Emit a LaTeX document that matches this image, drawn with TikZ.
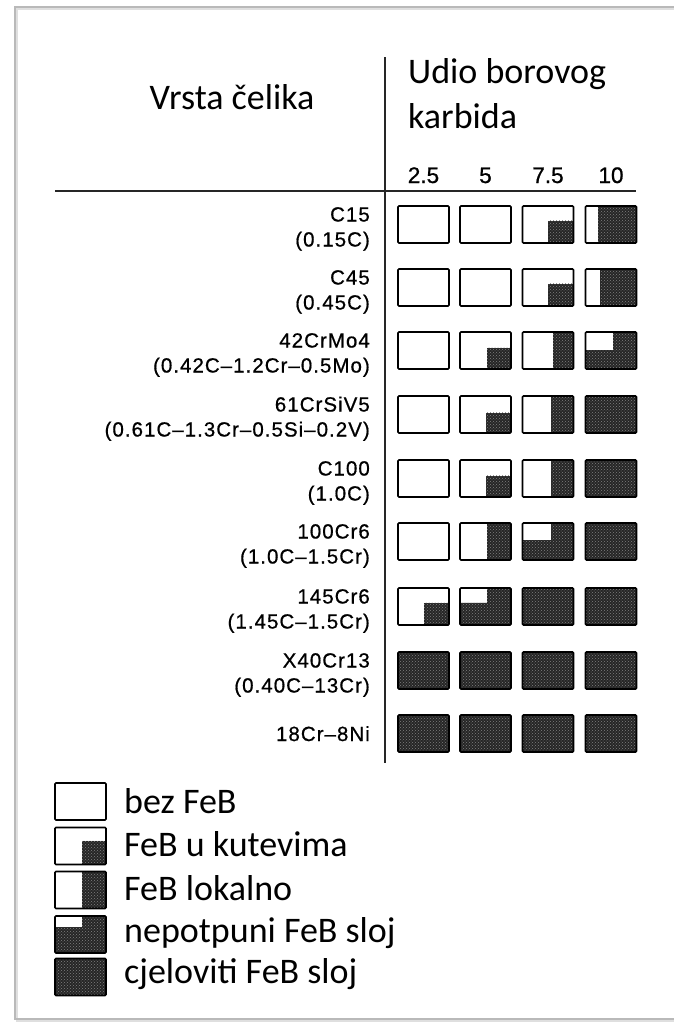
\documentclass[tikz,border=0pt]{standalone}
\usepackage{fontspec}
\setmainfont{Carlito}
\newfontfamily\labfont[LetterSpace=5, FakeBold=0.7]{Liberation Sans}
\newfontfamily\numfont[FakeBold=0.9]{Liberation Sans}
\usetikzlibrary{patterns,calc}
\tikzset{
  cellbox/.style={draw=black, line width=1.6pt, minimum width=51pt, minimum height=37pt, inner sep=0pt, outer sep=0pt, rounded corners=1pt},
  feb/.style={preaction={fill=black!85}, pattern=crosshatch dots, pattern color=black!50},
  head/.style={font=\fontsize{36}{43}\selectfont, inner sep=0pt},
  legtext/.style={font=\fontsize{36}{43}\selectfont, inner sep=0pt, anchor=base west},
  lab/.style={font=\labfont\fontsize{20.5}{24}\selectfont, inner sep=0pt, anchor=base east},
  colnum/.style={font=\numfont\fontsize{22.5}{26}\selectfont, inner sep=0pt, anchor=base},
  rule/.style={draw=black!85, line width=1.6pt}
}
% #1 name, #2 cx, #3 cy, #4 type (0 none,1 corner,2 local,3 incomplete,4 full), #5 fx, #6 fy
\newcommand{\febcell}[6]{%
  \ifcase#4\relax
  \or \fill[feb] ({#2-25.5+#5*51},{#3-18.5+#6*37}) rectangle ({#2+25.5},{#3+18.5});
  \or \fill[feb] ({#2-25.5+#5*51},{#3-18.5}) rectangle ({#2+25.5},{#3+18.5});
  \or \fill[feb] ({#2-25.5},{#3-18.5+#6*37}) -- ({#2-25.5+#5*51},{#3-18.5+#6*37}) -- ({#2-25.5+#5*51},{#3-18.5}) -- ({#2+25.5},{#3-18.5}) -- ({#2+25.5},{#3+18.5}) -- ({#2-25.5},{#3+18.5}) -- cycle;
  \or \fill[feb] ({#2-25.5},{#3-18.5}) rectangle ({#2+25.5},{#3+18.5});
  \fi
  \node[cellbox] (#1) at (#2,#3) {};
}
\begin{document}
\begin{tikzpicture}[x=1pt,y=-1pt]
\useasboundingbox (0,0) rectangle (674,1023);
% frame
\draw[gray!25, line width=2pt] (17,9) rectangle (700,1021);
\draw[gray!55, line width=1.5pt] (15,7) rectangle (700,1019);
% rules
\coordinate (vt) at (385,57);
\coordinate (vb) at (385,763);
\coordinate (hl) at (55,191);
\coordinate (hr) at (636,191);
\draw[rule] (vt) -- (vb);
\draw[rule] (hl) -- (hr);
% headers
\node[head, anchor=base] (vrsta) at (232,109) {Vrsta čelika};
\node[head, anchor=base west] (udio1) at (408,83) {Udio borovog};
\node[head, anchor=base west] (udio2) at (408,128) {karbida};
\node[colnum] (c1) at (423.5,183) {2.5};
\node[colnum] (c2) at (485.5,183) {5};
\node[colnum] (c3) at (548,183) {7.5};
\node[colnum] (c4) at (611,183) {10};
% labels
\node[lab] (l1a) at (370,221.5) {C15};
\node[lab] (l1b) at (370,246.5) {(0.15C)};
\node[lab] (l2a) at (370,284.5) {C45};
\node[lab] (l2b) at (370,309.5) {(0.45C)};
\node[lab] (l3a) at (370,347.5) {42CrMo4};
\node[lab] (l3b) at (370,372.5) {(0.42C–1.2Cr–0.5Mo)};
\node[lab] (l4a) at (370,411.5) {61CrSiV5};
\node[lab] (l4b) at (370,436.5) {(0.61C–1.3Cr–0.5Si–0.2V)};
\node[lab] (l5a) at (370,475.5) {C100};
\node[lab] (l5b) at (370,500.5) {(1.0C)};
\node[lab] (l6a) at (370,538.5) {100Cr6};
\node[lab] (l6b) at (370,563.5) {(1.0C–1.5Cr)};
\node[lab] (l7a) at (370,603.5) {145Cr6};
\node[lab] (l7b) at (370,628.5) {(1.45C–1.5Cr)};
\node[lab] (l8a) at (370,667.5) {X40Cr13};
\node[lab] (l8b) at (370,692.5) {(0.40C–13Cr)};
\node[lab] (l9a) at (370,741) {18Cr–8Ni};
% cells row 1
\febcell{r1c1}{423.5}{224.5}{0}{0}{0}
\febcell{r1c2}{485.5}{224.5}{0}{0}{0}
\febcell{r1c3}{548}{224.5}{1}{0.5}{0.4}
\febcell{r1c4}{611}{224.5}{2}{0.25}{0}
% row 2
\febcell{r2c1}{423.5}{287.5}{0}{0}{0}
\febcell{r2c2}{485.5}{287.5}{0}{0}{0}
\febcell{r2c3}{548}{287.5}{1}{0.5}{0.4}
\febcell{r2c4}{611}{287.5}{2}{0.29}{0}
% row 3
\febcell{r3c1}{423.5}{350.5}{0}{0}{0}
\febcell{r3c2}{485.5}{350.5}{1}{0.53}{0.43}
\febcell{r3c3}{548}{350.5}{2}{0.6}{0}
\febcell{r3c4}{611}{350.5}{3}{0.54}{0.49}
% row 4
\febcell{r4c1}{423.5}{414.5}{0}{0}{0}
\febcell{r4c2}{485.5}{414.5}{1}{0.51}{0.45}
\febcell{r4c3}{548}{414.5}{2}{0.56}{0}
\febcell{r4c4}{611}{414.5}{4}{0}{0}
% row 5
\febcell{r5c1}{423.5}{478.5}{0}{0}{0}
\febcell{r5c2}{485.5}{478.5}{1}{0.51}{0.42}
\febcell{r5c3}{548}{478.5}{2}{0.56}{0}
\febcell{r5c4}{611}{478.5}{4}{0}{0}
% row 6
\febcell{r6c1}{423.5}{541.5}{0}{0}{0}
\febcell{r6c2}{485.5}{541.5}{2}{0.53}{0}
\febcell{r6c3}{548}{541.5}{3}{0.56}{0.46}
\febcell{r6c4}{611}{541.5}{4}{0}{0}
% row 7
\febcell{r7c1}{423.5}{606.5}{1}{0.5}{0.4}
\febcell{r7c2}{485.5}{606.5}{3}{0.53}{0.4}
\febcell{r7c3}{548}{606.5}{4}{0}{0}
\febcell{r7c4}{611}{606.5}{4}{0}{0}
% row 8
\febcell{r8c1}{423.5}{670.5}{4}{0}{0}
\febcell{r8c2}{485.5}{670.5}{4}{0}{0}
\febcell{r8c3}{548}{670.5}{4}{0}{0}
\febcell{r8c4}{611}{670.5}{4}{0}{0}
% row 9
\febcell{r9c1}{423.5}{733.5}{4}{0}{0}
\febcell{r9c2}{485.5}{733.5}{4}{0}{0}
\febcell{r9c3}{548}{733.5}{4}{0}{0}
\febcell{r9c4}{611}{733.5}{4}{0}{0}
% legend
\febcell{lg1}{80.5}{801.5}{0}{0}{0}
\febcell{lg2}{80.5}{846}{1}{0.53}{0.36}
\febcell{lg3}{80.5}{890}{2}{0.53}{0}
\febcell{lg4}{80.5}{934.5}{3}{0.53}{0.3}
\febcell{lg5}{80.5}{977}{4}{0}{0}
\node[legtext] (t1) at (124,813) {bez FeB};
\node[legtext] (t2) at (124,856.5) {FeB u kutevima};
\node[legtext] (t3) at (124,900) {FeB lokalno};
\node[legtext] (t4) at (124,942) {nepotpuni FeB sloj};
\node[legtext] (t5) at (124,983) {cjeloviti FeB sloj};
\end{tikzpicture}
\end{document}
